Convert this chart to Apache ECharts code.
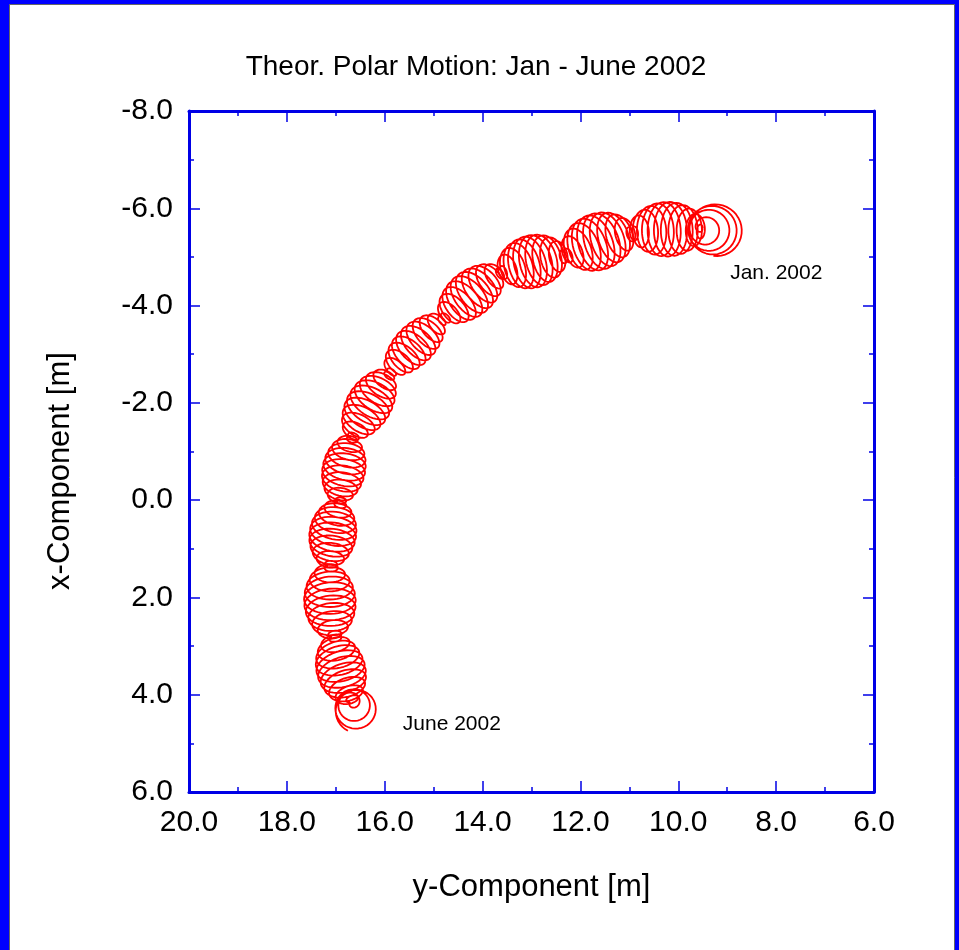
<!DOCTYPE html>
<html>
<head>
<meta charset="utf-8">
<script src="https://cdn.jsdelivr.net/npm/echarts@6/dist/echarts.min.js"></script>
<style>
html,body{margin:0;padding:0;background:#fff;}
#chart{width:959px;height:950px;}
</style>
</head>
<body>
<div id="chart"></div>
<script>
// Path nodes (y-component on horizontal axis, x-component on vertical axis), metres
const nodeY = [8.92, 9.50, 10.95, 12.32, 13.64, 14.83, 15.93, 16.71, 16.96, 17.16, 17.08, 16.71, 16.42];
const nodeX = [-5.51, -5.59, -5.55, -5.08, -4.73, -3.76, -2.63, -1.30, 0.04, 1.35, 2.81, 4.15, 4.56];
// Per loop-cluster: peak half width (m), loop ellipticity, loops per cluster, phase, time range
const halfWidth = [0.53, 0.56, 0.58, 0.54, 0.47, 0.41, 0.46, 0.44, 0.48, 0.53, 0.50, 0.43];
const loopRatio = [1.0, 0.55, 0.55, 0.55, 0.55, 0.55, 0.55, 0.55, 0.55, 0.55, 0.55, 1.0];
const loopCount = [8, 11, 11, 11, 11, 11, 11, 11, 11, 11, 11, 6];
const loopPhase = [3.14, 0, 0, 0, 0, 0, 0, 0, 0, 0, 0, 0.5];
const tStart = [0.5, 0, 0, 0, 0, 0, 0, 0, 0, 0, 0, 0];
const tEnd = [1, 1, 1, 1, 1, 1, 1, 1, 1, 1, 1, 0.5];
// Annotations
const annoText = ['Jan. 2002', 'June 2002'];
const annoY = [8.94, 15.63];
const annoX = [-4.44, 4.83];
// Axis ticks
const xAxisMin = 6, xAxisMax = 20, yAxisMin = -8, yAxisMax = 6, tickStep = 2;

const segments = halfWidth.map((w, i) => [nodeY[i], nodeX[i], nodeY[i + 1], nodeX[i + 1], w, loopRatio[i], loopCount[i], loopPhase[i], tStart[i], tEnd[i]]);
const annos = annoText.map((t, i) => ({ name: t, value: [annoY[i], annoX[i]] }));

const FONT = '"Liberation Sans", Arial, sans-serif';
const BLUE = '#0000e6';

const chart = echarts.init(document.getElementById('chart'), null, { renderer: 'canvas' });

function renderLoops(params, api) {
  const p0 = api.coord([api.value(0), api.value(1)]);
  const p1 = api.coord([api.value(2), api.value(3)]);
  const sz = api.size([1, 1]);
  const pxPerM = (sz[0] + sz[1]) / 2;
  const W = api.value(4) * pxPerM;
  const ratio = api.value(5);
  const n = api.value(6);
  const phase = api.value(7);
  const ts = api.value(8), te = api.value(9);
  const Lx = p1[0] - p0[0], Ly = p1[1] - p0[1];
  const len = Math.hypot(Lx, Ly);
  const ux = Lx / len, uy = Ly / len;
  const px = -uy, py = ux;
  const steps = Math.round(n * (te - ts) * 40);
  const pts = [];
  for (let j = 0; j <= steps; j++) {
    const t = ts + (te - ts) * j / steps;
    const th = 2 * Math.PI * n * t + phase;
    const env = Math.pow(Math.max(0, Math.sin(Math.PI * t)), 0.5);
    const cx = p0[0] + t * Lx, cy = p0[1] + t * Ly;
    const a = W * env * Math.cos(th), b = W * env * ratio * Math.sin(th);
    pts.push([cx + a * px + b * ux, cy + a * py + b * uy]);
  }
  return {
    type: 'polyline',
    shape: { points: pts },
    style: { stroke: '#ff0000', lineWidth: 1.8, fill: null, lineJoin: 'round' }
  };
}

function renderAnno(params, api) {
  const p = api.coord([api.value(0), api.value(1)]);
  return {
    type: 'text',
    x: p[0], y: p[1],
    style: { text: annoText[params.dataIndex], font: '21px ' + FONT, fill: '#000', textAlign: 'left', textVerticalAlign: 'bottom' }
  };
}

const axisCommon = {
  type: 'value',
  interval: tickStep,
  axisLine: { show: true, onZero: false, lineStyle: { color: BLUE, width: 3 } },
  axisTick: { show: true, inside: true, length: 11, lineStyle: { color: BLUE, width: 1.5 } },
  minorTick: { show: true, splitNumber: 2, length: 5, lineStyle: { color: BLUE, width: 1.5 } },
  splitLine: { show: false },
  minorSplitLine: { show: false }
};

const option = {
  backgroundColor: '#ffffff',
  animation: false,
  graphic: [
    { type: 'rect', z: -10, silent: true, shape: { x: 0, y: 0, width: 959, height: 950 }, style: { fill: '#0000ff' } },
    { type: 'rect', z: -9, silent: true, shape: { x: 9.5, y: 4.5, width: 945, height: 946 }, style: { fill: '#ffffff', stroke: '#666', lineWidth: 1 } },
    { type: 'text', x: 476, y: 67, style: { text: 'Theor. Polar Motion: Jan - June 2002', font: '28px ' + FONT, fill: '#000', textAlign: 'center', textVerticalAlign: 'middle' } },
    { type: 'text', x: 60, y: 471, rotation: Math.PI / 2, style: { text: 'x-Component [m]', font: '31px ' + FONT, fill: '#000', textAlign: 'center', textVerticalAlign: 'middle' } }
  ],
  grid: { left: 189, right: 85, top: 111, bottom: 158, containLabel: false },
  xAxis: [
    Object.assign({}, axisCommon, {
      position: 'bottom', min: xAxisMin, max: xAxisMax, inverse: true,
      name: 'y-Component [m]', nameLocation: 'middle', nameGap: 80,
      nameTextStyle: { fontFamily: FONT, fontSize: 31, color: '#000' },
      axisLabel: { show: true, margin: 16, fontFamily: FONT, fontSize: 30, color: '#000', formatter: v => v.toFixed(1) }
    }),
    Object.assign({}, axisCommon, {
      position: 'top', min: xAxisMin, max: xAxisMax, inverse: true,
      axisLabel: { show: false }
    })
  ],
  yAxis: [
    Object.assign({}, axisCommon, {
      position: 'left', min: yAxisMin, max: yAxisMax, inverse: true,
      axisLabel: { show: true, margin: 16, fontFamily: FONT, fontSize: 30, color: '#000', formatter: v => v.toFixed(1) }
    }),
    Object.assign({}, axisCommon, {
      position: 'right', min: yAxisMin, max: yAxisMax, inverse: true,
      axisLabel: { show: false }
    })
  ],
  series: [
    {
      type: 'custom', name: 'Polar motion', coordinateSystem: 'cartesian2d',
      xAxisIndex: 0, yAxisIndex: 0,
      renderItem: renderLoops,
      encode: { x: [0, 2], y: [1, 3] },
      data: segments,
      clip: false
    },
    {
      type: 'custom', name: 'Labels', coordinateSystem: 'cartesian2d',
      xAxisIndex: 0, yAxisIndex: 0,
      renderItem: renderAnno,
      encode: { x: 0, y: 1 },
      data: annos
    }
  ]
};
chart.setOption(option);
</script>
</body>
</html>
